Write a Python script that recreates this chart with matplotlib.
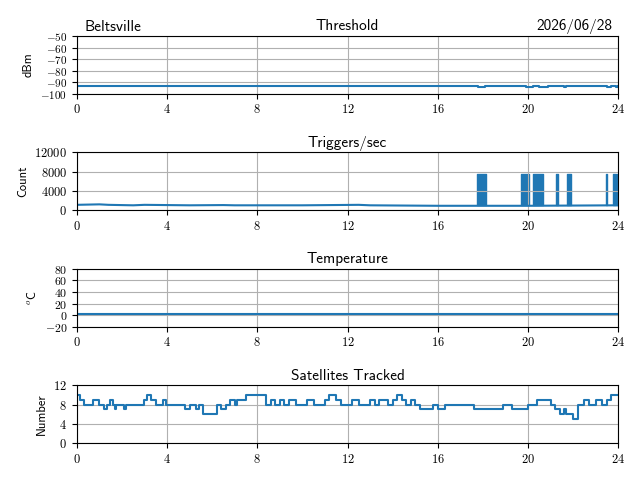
import matplotlib
matplotlib.use("Agg")
import matplotlib.pyplot as plt
import numpy as np

plt.rcParams['font.family'] = 'cmss10'
plt.rcParams['axes.formatter.use_mathtext'] = True
plt.rcParams['mathtext.fontset'] = 'cm'

hours_ticks = [0, 4, 8, 12, 16, 20, 24]

# Threshold (dBm): breakpoints
thr_t = [0, 17.8, 18.1, 19.9, 20.2, 20.5, 20.9, 21.6, 21.7, 23.5, 23.7, 23.9, 24]
thr_v = [-93, -94, -93, -94, -93, -94, -93, -94, -93, -94, -93, -94, -93]

# Triggers/sec: baseline breakpoints and burst intervals
trig_t = [0, 1.0, 1.4, 2.5, 3.0, 5.0, 6.5, 7.0, 10.0, 12.5, 13.0, 16.0, 20.0, 24]
trig_v = [1100, 1200, 1100, 1000, 1100, 1000, 1050, 1000, 1000, 1100, 1000, 900, 900, 1000]
burst_start = [17.75, 19.7, 20.2, 21.25, 21.75, 23.45, 23.75, 23.95]
burst_end = [18.15, 20.05, 20.65, 21.32, 21.9, 23.52, 23.9, 24.0]
burst_top = 7500

# Temperature (C)
temp_t = [0, 24]
temp_v = [2, 2]

# Satellites tracked: step breakpoints
sat_t = [0, 0.15, 0.3, 0.7, 1.0, 1.2, 1.35, 1.45, 1.6, 1.7, 1.75, 2.0, 2.1, 2.2, 2.5,
         3.0, 3.1, 3.3, 3.5, 3.7, 3.8, 3.95, 4.0, 4.8, 5.0, 5.3, 5.4, 5.6, 6.0, 6.2,
         6.4, 6.6, 6.8, 7.0, 7.1, 7.5, 8.0, 8.4, 8.6, 8.8, 9.0, 9.2, 9.4, 9.7, 10.0,
         10.2, 10.5, 11.0, 11.2, 11.5, 11.7, 12.0, 12.2, 12.5, 13.0, 13.2, 13.4, 13.8,
         14.0, 14.2, 14.4, 14.6, 14.8, 15.0, 15.2, 15.5, 15.8, 16.0, 16.3, 17.0, 17.3,
         17.6, 18.0, 18.4, 18.6, 18.9, 19.3, 20.0, 20.4, 21.0, 21.2, 21.4, 21.6, 21.7,
         22.0, 22.2, 22.5, 22.7, 23.0, 23.3, 23.5, 23.7, 24.0]
sat_v = [10, 9, 8, 9, 8, 7, 8, 9, 8, 7, 8, 8, 7, 8, 8,
         9, 10, 9, 8, 8, 9, 8, 8, 7, 8, 7, 8, 6, 6, 8,
         7, 8, 9, 8, 9, 10, 10, 8, 9, 8, 9, 8, 9, 8, 8,
         9, 8, 9, 10, 9, 8, 8, 9, 8, 9, 8, 9, 8, 9, 10,
         9, 8, 9, 8, 7, 7, 8, 7, 8, 8, 8,
         7, 7, 7, 7, 8, 7, 8, 9, 8, 7, 6, 7, 6,
         5, 8, 9, 8, 9, 8, 9, 10, 10]
sat_v = sat_v[:len(sat_t)] + [sat_v[-1]] * (len(sat_t) - len(sat_v))

fig, axes = plt.subplots(4, 1, figsize=(6.4, 4.8), dpi=100)
fig.subplots_adjust(left=0.12, right=0.966, top=0.925, bottom=0.077, hspace=1.02)
col = '#1f77b4'

def setup(ax, title, ylabel, ylim, yticks, ysize=9):
    ax.set_title(title, fontsize=11, pad=4)
    ax.set_ylabel(ylabel, fontsize=9)
    ax.set_xlim(0, 24)
    ax.set_ylim(*ylim)
    ax.set_yticks(yticks)
    ax.set_xticks(hours_ticks)
    ax.grid(True, color='#b0b0b0')
    for lab in ax.get_xticklabels():
        lab.set_fontfamily('cmr10')
        lab.set_fontsize(9)
    for lab in ax.get_yticklabels():
        lab.set_fontfamily('cmr10')
        lab.set_fontsize(ysize)

ax = axes[0]
ax.step(thr_t, thr_v, where='post', color=col, lw=1.5)
setup(ax, 'Threshold', 'dBm', (-100, -50), [-100, -90, -80, -70, -60, -50], ysize=8)
ax.text(0.015, 1.04, 'Beltsville', transform=ax.transAxes, fontsize=11, ha='left', va='bottom')
ax.text(0.99, 1.04, '2026/06/28', transform=ax.transAxes, fontsize=11, ha='right', va='bottom')

ax = axes[1]
ax.plot(trig_t, trig_v, color=col, lw=1.5)
for s, e in zip(burst_start, burst_end):
    ax.fill_between([s, e], [1000, 1000], [burst_top, burst_top], color=col, lw=1)
setup(ax, 'Triggers/sec', 'Count', (0, 12000), [0, 4000, 8000, 12000])

ax = axes[2]
ax.plot(temp_t, temp_v, color=col, lw=1.5)
setup(ax, 'Temperature', '$^o$C', (-20, 80), [-20, 0, 20, 40, 60, 80], ysize=8.5)

ax = axes[3]
ax.step(sat_t, sat_v, where='post', color=col, lw=1.5)
setup(ax, 'Satellites Tracked', 'Number', (0, 12), [0, 4, 8, 12])

fig.savefig('out.png')
